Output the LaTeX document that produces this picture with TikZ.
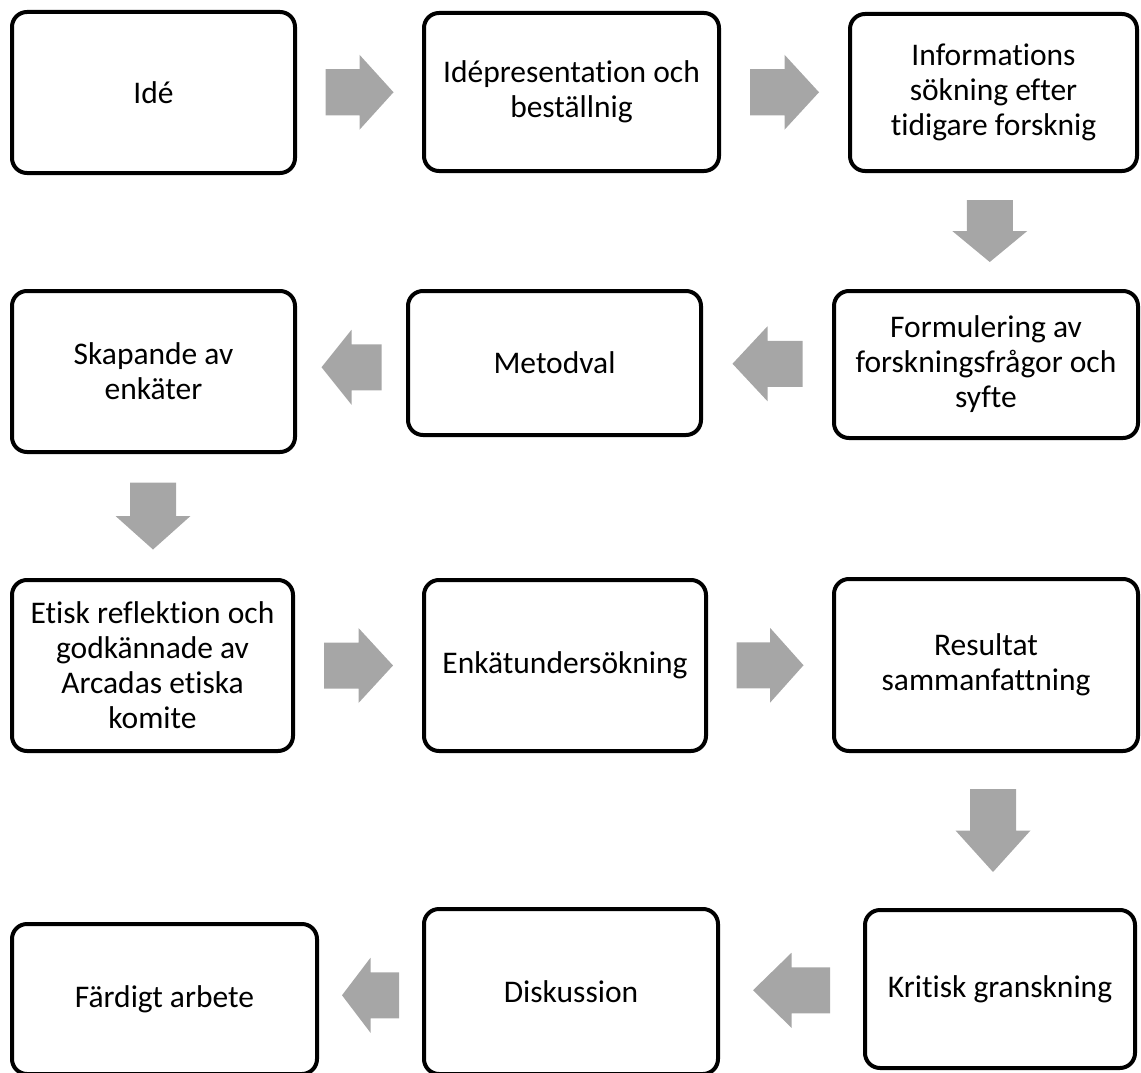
\documentclass[tikz,border=0pt]{standalone}
\usepackage{fontspec}
\setmainfont{Carlito}[Ligatures=NoCommon]
\usetikzlibrary{calc}

\definecolor{arrowgray}{HTML}{A6A6A6}

\tikzset{
  stepbox/.style={draw, line width=4pt, rounded corners=15pt, align=center,
    inner sep=0pt, font=\fontsize{31.5}{35}\selectfont},
}

% block arrow halfway between two anchors: from, to, angle, length
\newcommand{\blockarrow}[4]{%
  \fill[arrowgray, shift={($(#1)!0.5!(#2)$)}, rotate=#3]
    (-#4/2, -23) -- (0, -23) -- (0, -37.5) -- (#4/2, 0)
    -- (0, 37.5) -- (0, 23) -- (-#4/2, 23) -- cycle;}

\begin{document}
\begin{tikzpicture}[x=1pt, y=-1pt]
  \useasboundingbox (0, 0) rectangle (1141, 1073);

  % first row
  \node[stepbox, minimum width=283pt, minimum height=161pt] (ide) at (153.5, 92.5) {Idé};
  \node[stepbox, minimum width=295pt, minimum height=158pt] (pres) at (571.5, 92) {Idépresentation och\\beställnig};
  \node[stepbox, minimum width=287pt, minimum height=157pt] (info) at (993.5, 92.5) {Informations\\sökning efter\\tidigare forsknig};

  % second row
  \node[stepbox, minimum width=304pt, minimum height=147pt] (form) at (986, 364.5) {Formulering av\\forskningsfrågor och\\syfte};
  \node[stepbox, minimum width=293pt, minimum height=144pt] (metod) at (554.5, 363) {Metodval};
  \node[stepbox, minimum width=283pt, minimum height=161pt] (skap) at (153.5, 371.5) {Skapande av\\enkäter};

  % third row
  \node[stepbox, minimum width=281pt, minimum height=171pt] (etisk) at (152.5, 665.5) {Etisk reflektion och\\godkännade av\\Arcadas etiska\\komite};
  \node[stepbox, minimum width=282pt, minimum height=171pt] (enkat) at (565, 665.5) {Enkätundersökning};
  \node[stepbox, minimum width=304pt, minimum height=172pt] (result) at (986, 665) {Resultat\\sammanfattning};

  % last row
  \node[stepbox, minimum width=270pt, minimum height=158pt] (kritisk) at (1000, 989) {Kritisk granskning};
  \node[stepbox, minimum width=294pt, minimum height=165pt] (disk) at (571, 991.5) {Diskussion};
  \node[stepbox, minimum width=305pt, minimum height=150pt] (fardig) at (164.5, 999) {Färdigt arbete};

  \blockarrow{ide.east}{pres.west}{0}{68}
  \blockarrow{pres.east}{info.west}{0}{69}
  \blockarrow{info.south}{form.north}{-90}{62}
  \blockarrow{form.west}{metod.east}{180}{70}
  \blockarrow{metod.west}{skap.east}{180}{60}
  \blockarrow{skap.south}{etisk.north}{-90}{67}
  \blockarrow{etisk.east}{enkat.west}{0}{69}
  \blockarrow{enkat.east}{result.west}{0}{67}
  \blockarrow{result.south}{kritisk.north}{-90}{83}
  \blockarrow{kritisk.west}{disk.east}{180}{77}
  \blockarrow{disk.west}{fardig.east}{180}{57}
\end{tikzpicture}
\end{document}
